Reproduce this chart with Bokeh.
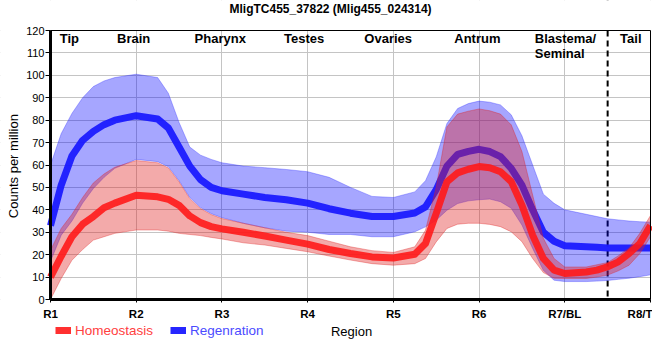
from math import pi
from bokeh.plotting import figure
from bokeh.models import (Range1d, FixedTicker, Label, Span, Legend, LegendItem,
                          ColumnDataSource, LinearAxis, BoxAnnotation)
from bokeh.embed import file_html
from bokeh.resources import INLINE

# ---------------- data ----------------
title_text = "MligTC455_37822 (Mlig455_024314)"
x_title = "Region"
y_title = "Counts per million"
tick_values = [1, 2, 3, 4, 5, 6, 7, 8]
tick_labels = ["R1", "R2", "R3", "R4", "R5", "R6", "R7/BL", "R8/T"]
y_ticks = [0, 10, 20, 30, 40, 50, 60, 70, 80, 90, 100, 110, 120]
region_names = ["Tip", "Brain", "Pharynx", "Testes", "Ovaries", "Antrum", "Blastema/", "Seminal", "Tail"]
boundary_x = 7.5
series_names = ["Homeostasis", "Regenration"]

xs = [1.0, 1.125, 1.25, 1.375, 1.5, 1.625, 1.75, 2.0, 2.25, 2.375, 2.5, 2.625, 2.75,
      2.875, 3.0, 3.25, 3.5, 3.75, 4.0, 4.25, 4.5, 4.75, 5.0, 5.25, 5.375, 5.5,
      5.625, 5.75, 5.875, 6.0, 6.125, 6.25, 6.375, 6.5, 6.625, 6.75, 6.875, 7.0,
      7.25, 7.375, 7.5, 7.625, 7.75, 7.875, 8.0]

reg_mean = [33, 51, 64, 71, 75, 78, 80, 82, 80.5, 76.5, 68, 59.5, 53.5,
            50, 48.5, 47, 45.5, 44.5, 43, 40.5, 38.5, 37, 37, 38.6, 41.3, 49,
            59.5, 64.7, 66.1, 67, 66, 63.7, 58.5, 51, 40, 30, 26, 24,
            23.5, 23.3, 23, 23, 23, 23, 23]
reg_hi = [60, 74, 83, 90, 95, 97.5, 99, 100.5, 99, 92, 79, 68, 64.4,
          62.5, 61, 59.5, 58.8, 58, 57, 54.5, 50, 46, 45.5, 48, 53, 63.6,
          78.5, 85.2, 87.4, 88.5, 88, 86.8, 82.4, 73, 60, 47, 42.9, 40,
          38, 37, 36, 35.5, 35, 34.7, 34.5]
reg_lo = [17, 28.7, 35, 43, 49.5, 54.5, 58.5, 62.5, 61.5, 59.2, 53, 45.5, 41,
          38.3, 36.5, 34, 32, 30.5, 30, 29, 29, 28, 28, 30.2, 32.4, 35.4,
          39.8, 42.8, 44, 44.5, 44.8, 43.6, 40.7, 33.2, 22.8, 13, 8.6, 8,
          8, 8.2, 8.5, 9, 9.5, 10.2, 11]

hom_mean = [10, 19.3, 28, 33.6, 37, 40.9, 43, 46.5, 45.8, 44.7, 42, 37.3, 34.3,
            32.5, 31.5, 30, 28.3, 26.5, 24.7, 22.3, 20.5, 19, 18.5, 20.2, 25, 38.4,
            52.5, 56.5, 58.1, 59.3, 58.8, 57, 52.6, 42.1, 28.7, 18.3, 13.1, 11.6,
            12.3, 13.1, 14.6, 16.8, 20.5, 25, 33]
hom_hi = [22, 31.7, 38, 45.5, 52, 56, 59, 62, 61, 58.7, 52.5, 45, 40.6,
          37.9, 36.1, 34, 32, 30, 28.5, 26, 23.5, 21.8, 21, 23.5, 30.9, 50.2,
          77, 82.7, 84, 85, 84.2, 82.7, 77.9, 66, 46.6, 27.3, 18.3, 14.5,
          14.5, 15.5, 16.5, 19.5, 23, 29.5, 37.5]
hom_lo = [0, 9.4, 17.5, 22.3, 26.5, 28, 29.5, 31, 31, 30.5, 29.5, 29, 28.5,
          27.7, 27, 25.3, 24.3, 22.8, 21.3, 19.4, 17.6, 16, 15.3, 16, 18.3, 25.7,
          31.7, 33.6, 34, 34, 33.5, 32.5, 30.2, 25.8, 18.3, 12, 9.5, 9.4,
          9.4, 10, 10.9, 12.8, 15.3, 20.5, 28]

# ---------------- figure ----------------
FONT = "Liberation Sans"
W, H = 652, 352
# frame covers the whole canvas; plot area R1..R8 x 0..120 sits at px 50..650 / 30..299
PX_PER_X = 600 / 7.0
PX_PER_Y = 269.0 / 120.0
x0 = 1 - 50 / PX_PER_X
x1 = x0 + W / PX_PER_X
y1 = 120 + 30 / PX_PER_Y
y0 = y1 - H / PX_PER_Y

p = figure(width=W, height=H, output_backend="svg", toolbar_location=None,
           x_range=Range1d(x0, x1), y_range=Range1d(y0, y1),
           min_border=0, min_border_left=0, min_border_right=0,
           min_border_top=0, min_border_bottom=0)
p.outline_line_color = None
p.background_fill_color = "white"
p.border_fill_color = "white"

p.xgrid.grid_line_color = "#c4c4c4"
p.ygrid.grid_line_color = "#c4c4c4"
p.xgrid.ticker = FixedTicker(ticks=tick_values)
p.ygrid.ticker = FixedTicker(ticks=y_ticks)

p.xaxis.ticker = FixedTicker(ticks=tick_values)
p.xaxis.major_label_overrides = {v: l for v, l in zip(tick_values, tick_labels)}
p.xaxis.fixed_location = 0
p.xaxis.bounds = (1, 8)
p.yaxis.ticker = FixedTicker(ticks=y_ticks)
p.yaxis.fixed_location = 1
p.yaxis.bounds = (0, 120)
for ax in (p.xaxis[0], p.yaxis[0]):
    ax.axis_line_width = 3
    ax.axis_line_color = "black"
    ax.major_tick_line_color = "black"
    ax.minor_tick_line_color = None
    ax.major_tick_in = 0
    ax.major_label_text_font = FONT
    ax.major_label_text_color = "black"
p.yaxis.major_tick_out = 5
p.yaxis.major_label_standoff = 1
p.yaxis.major_label_text_font_size = "11px"
p.xaxis.major_tick_out = 3
p.xaxis.major_label_standoff = 5
p.xaxis.major_label_text_font_size = "11.5px"
p.xaxis.major_label_text_font_style = "bold"

# thin top / right border of the plot area
top_ax = LinearAxis(fixed_location=120, bounds=(1, 8), ticker=FixedTicker(ticks=[]),
                    axis_line_width=1, axis_line_color="black",
                    major_tick_line_color=None, minor_tick_line_color=None)
right_ax = LinearAxis(fixed_location=8, bounds=(0, 120), ticker=FixedTicker(ticks=[]),
                      axis_line_width=1, axis_line_color="black",
                      major_tick_line_color=None, minor_tick_line_color=None)
p.add_layout(top_ax, "above")
p.add_layout(right_ax, "right")

# dashed boundary, then white masks so grid/dash stay inside the plot area
p.add_layout(Span(location=boundary_x, dimension="height", line_color="black",
                  line_width=2, line_dash="6 4", level="underlay"))
for kw in (dict(right=1), dict(left=8), dict(bottom=120), dict(top=0)):
    p.add_layout(BoxAnnotation(fill_color="white", fill_alpha=1, line_alpha=0,
                               level="underlay", **kw))

src = ColumnDataSource(dict(x=xs, rm=reg_mean, rh=reg_hi, rl=reg_lo,
                            hm=hom_mean, hh=hom_hi, hl=hom_lo))

# Regeneration (blue)
p.varea(x="x", y1="rl", y2="rh", source=src, fill_color="#0000ff", fill_alpha=0.35)
p.line(x="x", y="rh", source=src, line_color="#3030ff", line_alpha=0.35, line_width=1)
p.line(x="x", y="rl", source=src, line_color="#3030ff", line_alpha=0.35, line_width=1)
blue_line = p.line(x="x", y="rm", source=src, line_color="#1a1aff", line_alpha=0.95,
                   line_width=7, line_join="round")

# Homeostasis (red)
p.varea(x="x", y1="hl", y2="hh", source=src, fill_color="#e02020", fill_alpha=0.38)
p.line(x="x", y="hh", source=src, line_color="#e02020", line_alpha=0.35, line_width=1)
p.line(x="x", y="hl", source=src, line_color="#e02020", line_alpha=0.35, line_width=1)
red_line = p.line(x="x", y="hm", source=src, line_color="#ff1a1a", line_alpha=0.9,
                  line_width=7, line_join="round")

# region names inside the plot
region_x = [1.22, 1.97, 2.98, 3.96, 4.94, 5.98, 6.65, 6.65, 7.77]
region_y = [119.6, 119.6, 119.6, 119.6, 119.6, 119.6, 119.6, 113.0, 119.6]
region_align = ["center"] * 6 + ["left", "left", "center"]
for name, rx, ry, al in zip(region_names, region_x, region_y, region_align):
    p.add_layout(Label(x=rx, y=ry, text=name, text_align=al, text_baseline="top",
                       text_font=FONT, text_font_size="13px", text_font_style="bold",
                       text_color="black"))

# title and axis titles
p.add_layout(Label(x=4.267, y=129.6, text=title_text, text_align="center",
                   text_baseline="middle", text_font=FONT, text_font_size="12px",
                   text_font_style="bold", text_color="black"))
p.add_layout(Label(x=0.568, y=59.5, text=y_title, angle=pi / 2,
                   text_align="center", text_baseline="middle", text_font=FONT,
                   text_font_size="13px", text_color="black"))
p.add_layout(Label(x=4.512, y=-14.4, text=x_title, text_align="center",
                   text_baseline="middle", text_font=FONT, text_font_size="13px",
                   text_color="black"))

# legends (one per series so each label keeps its own colour)
leg_specs = [(red_line, series_names[0], "#ff4040", (55, 14)),
             (blue_line, series_names[1], "#4b4bff", (170, 14))]
for r, name, col, loc in leg_specs:
    lg = Legend(items=[LegendItem(label=name, renderers=[r])], location=loc,
                orientation="horizontal", padding=0, margin=0, spacing=0,
                glyph_width=16, glyph_height=8, label_height=16, label_standoff=4,
                label_text_font=FONT, label_text_font_size="13.5px",
                label_text_color=col, border_line_alpha=0,
                background_fill_alpha=0)
    p.add_layout(lg, "center")

open("out.html", "w").write(file_html(p, INLINE))
